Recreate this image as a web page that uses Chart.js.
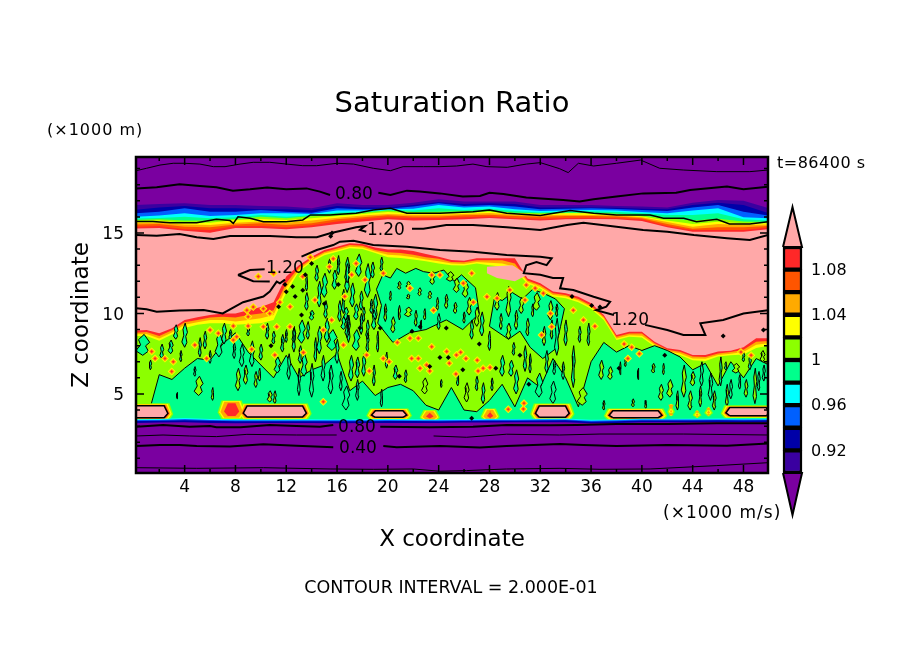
<!DOCTYPE html>
<html>
<head>
<meta charset="utf-8">
<title>Saturation Ratio</title>
<script src="https://cdn.jsdelivr.net/npm/chart.js@4/dist/chart.umd.min.js"></script>
<style>
  html, body { margin: 0; padding: 0; background: #fff; }
  #wrap { position: relative; width: 904px; height: 654px; overflow: hidden; }
  #plot { position: absolute; left: 0; top: 0; }
  #scale { position: absolute; left: 770px; top: 195px; }
</style>
</head>
<body>
<div id="wrap">
  <canvas id="plot" width="904" height="654"></canvas>
  <canvas id="scale" width="130" height="330"></canvas>
</div>
<script>
// ── Colours ───────────────────────────────────────────────────────────────
const PURPLE = "#7a00a0", INDIGO = "#3a00a0", NAVY = "#0000a8", BLUE = "#0060ff", CYAN = "#00ffff";
const TEAL = "#00ff8c", LIME = "#8cff00", YELLOW = "#ffff00", ORANGE = "#ffaa00", DEEP = "#ff5500";
const RED = "#ff2828", PINK = "#ffa8a8", INK = "#000";

// ── Axes ──────────────────────────────────────────────────────────────────
const xTickValues = [4, 8, 12, 16, 20, 24, 28, 32, 36, 40, 44, 48];
const yTickValues = [5, 10, 15];

// ── Upper stack of bands: top of each band, km, one value per xEdges entry ─
const xEdges  = [0,2,4,6,8,10,12,14,16,18,20,22,24,26,28,30,32,34,36,38,40,42,44,46,48,50];
const edge090 = [16.74,16.80,16.84,16.74,16.74,16.68,16.64,16.53,16.84,16.74,16.74,16.88,17.09,16.95,16.95,16.95,16.74,16.74,16.74,16.68,16.64,16.59,16.88,17.05,17.01,16.53];
const edge092 = [16.43,16.59,16.68,16.53,16.53,16.47,16.47,16.43,16.68,16.59,16.59,16.74,16.92,16.80,16.84,16.80,16.59,16.59,16.59,16.57,16.51,16.47,16.74,16.88,16.74,16.22];
const edge094 = [16.22,16.32,16.53,16.32,16.32,16.43,16.32,16.26,16.53,16.47,16.51,16.64,16.84,16.68,16.74,16.64,16.47,16.51,16.53,16.49,16.43,16.37,16.59,16.74,16.32,16.08];
const edge096 = [16.01,16.08,16.22,16.06,16.12,16.22,16.22,16.18,16.39,16.39,16.47,16.51,16.74,16.59,16.64,16.47,16.37,16.39,16.43,16.39,16.30,16.22,16.39,16.53,15.97,15.91];
const edge098 = [15.89,15.93,16.01,15.91,15.97,16.12,16.01,16.10,16.26,16.30,16.43,16.39,16.53,16.43,16.51,16.37,16.28,16.32,16.35,16.30,16.22,16.12,16.12,16.22,15.85,15.77];
const edge100 = [15.81,15.85,15.77,15.77,15.87,16.01,15.91,16.06,16.18,16.26,16.39,16.30,16.32,16.35,16.39,16.26,16.22,16.26,16.26,16.20,16.08,15.91,15.77,15.89,15.72,15.68];
const edge102 = [15.72,15.77,15.64,15.64,15.81,15.87,15.81,15.91,16.06,16.18,16.30,16.22,16.22,16.26,16.32,16.22,16.16,16.22,16.22,16.16,16.03,15.77,15.56,15.70,15.60,15.60];
const edge104 = [15.64,15.64,15.52,15.50,15.64,15.72,15.64,15.77,15.95,16.08,16.18,16.14,16.14,16.18,16.24,16.14,16.10,16.14,16.12,16.10,15.97,15.68,15.39,15.56,15.50,15.52];
const edge106 = [15.52,15.56,15.39,15.35,15.52,15.60,15.50,15.60,15.85,15.97,16.10,16.03,16.03,16.10,16.14,16.06,16.01,16.06,16.06,16.03,15.91,15.56,15.27,15.35,15.35,15.43];
const edge108 = [15.39,15.43,15.23,15.19,15.43,15.43,15.35,15.48,15.72,15.87,15.97,15.93,15.93,15.97,16.03,15.93,15.89,15.93,15.95,15.91,15.85,15.43,15.19,15.19,15.19,15.35];
const edge110 = [15.27,15.31,15.14,15.02,15.31,15.31,15.23,15.35,15.56,15.72,15.85,15.77,15.81,15.85,15.93,15.85,15.77,15.85,15.87,15.85,15.74,15.35,15.08,15.08,15.08,15.23];

// ── Cloud top and bottom of the moist layer ───────────────────────────────
const xCloud = [0,1,2,3,4,5,6,7,8,9,10,11,12,13,14,15,16,17,18,19,20,21,22,23,24,25,26,27,28,29,30,31,32,33,34,35,36,37,38,39,40,41,42,43,44,45,46,47,48,49,50];
const cloudRed    = [8.93,8.97,8.77,9.08,9.6,9.76,9.9,10.0,10.0,10.2,10.4,10.7,12.3,13.0,13.53,13.94,14.15,14.36,14.32,14.1,13.98,13.98,13.88,13.7,13.53,13.32,13.28,13.43,13.43,13.43,13.43,12.18,11.87,11.36,11.25,11.04,10.63,9.9,8.66,8.87,8.87,8.25,7.84,7.73,7.42,7.42,7.63,7.69,7.9,8.46,8.46];
const cloudOrange = [8.8,8.85,8.6,8.95,9.45,9.6,9.75,9.8,9.75,9.9,10.0,10.2,11.9,12.85,13.4,13.82,14.03,14.25,14.2,13.95,13.8,13.75,13.65,13.5,13.4,13.2,13.18,13.3,13.3,13.3,13.1,12.05,11.75,11.25,11.15,10.9,10.5,9.8,8.55,8.75,8.75,8.15,7.74,7.62,7.32,7.3,7.52,7.6,7.75,8.25,8.3];
const cloudYellow = [8.7,8.72,8.45,8.82,9.3,9.45,9.6,9.6,9.5,9.6,9.7,9.9,11.6,12.72,13.3,13.72,13.93,14.15,14.1,13.85,13.65,13.6,13.5,13.35,13.25,13.1,13.08,13.2,13.15,13.1,12.9,11.95,11.65,11.15,11.05,10.8,10.4,9.7,8.45,8.65,8.62,8.05,7.65,7.52,7.2,7.18,7.42,7.5,7.6,8.05,8.15];
const cloudLime   = [8.6,8.6,8.3,8.7,9.1,9.3,9.4,9.4,9.3,9.35,9.4,9.6,11.3,12.6,13.2,13.62,13.83,14.05,14.0,13.75,13.5,13.45,13.35,13.25,13.1,13.0,12.98,13.1,13.0,12.9,12.7,11.85,11.55,11.05,10.95,10.7,10.3,9.6,8.35,8.55,8.5,7.95,7.55,7.42,7.1,7.05,7.32,7.4,7.45,7.85,8.0];
const tealTop     = [3.3,3.3,6.2,5.9,6.6,7.2,7.1,8.1,8.8,7.6,6.8,6.0,7.4,6.0,6.5,6.8,7.5,5.2,5.8,4.9,5.4,5.6,5.2,4.3,4.0,5.4,4.0,3.9,4.6,5.6,4.2,6.0,5.4,7.2,6.0,4.2,7.0,8.2,7.6,8.0,7.7,8.0,7.7,7.3,6.5,6.9,5.5,7.0,6.0,7.2,6.8];

const bandCyan = [3.43,3.44,3.50,3.45,3.42,3.42,3.42,3.43,3.42,3.43,3.44,3.43,3.42,3.43,3.46,3.45,3.46,3.48,3.40,3.42,3.46,3.46,3.46,3.47,3.46,3.48];
const bandBlue = [3.38,3.39,3.44,3.39,3.36,3.37,3.36,3.37,3.37,3.37,3.38,3.37,3.37,3.38,3.40,3.40,3.41,3.42,3.34,3.37,3.41,3.41,3.41,3.42,3.41,3.42];
const bandNavy = [3.32,3.33,3.37,3.33,3.30,3.31,3.31,3.31,3.31,3.31,3.32,3.32,3.31,3.32,3.34,3.34,3.35,3.36,3.28,3.31,3.35,3.35,3.35,3.36,3.35,3.36];
const bandBase = [3.20,3.22,3.24,3.20,3.18,3.20,3.20,3.20,3.18,3.20,3.20,3.20,3.20,3.22,3.22,3.24,3.24,3.24,3.18,3.20,3.24,3.24,3.24,3.26,3.26,3.26];

// ── Large patches [x, km] ─────────────────────────────────────────────────
const tealPatchA = [[19.2,9.4],[20.4,8.2],[21.7,8.8],[23,9],[24.6,9.6],[25.9,9],[27.2,10],[26.9,11.6],[25.8,12.4],[25.2,12.0],[24.4,12.7],[23.6,12.5],[22.8,12.6],[22.2,12.8],[21.4,12.5],[20.7,12.8],[20.2,12.2],[19.6,12.4],[19.1,11.5],[19.5,10.5],[19.2,9.4]];
const tealPatchB = [[28.0,9.2],[29.5,8.4],[30.4,8.9],[31.2,7.9],[32.2,7.2],[33.2,7.8],[33.6,9.2],[33.9,10.3],[33.2,10.9],[32.4,11.2],[31.4,11.5],[30.6,10.9],[29.8,11.3],[29.0,10.8],[28.4,11.0],[28.0,9.2]];
const pinkWedge  = [[27.8,12.9],[29.8,13],[31,12.4],[30,12],[28.6,12.2],[27.8,12.5],[27.8,12.9]];

// ── Streaks: [x, bottom, top, half width] ─────────────────────────────────
const tealStreaks = [
  [0.7,7.4,8.7,.55],[2.9,7.5,8.35,.2],[4,7.9,9.4,.22],[5.2,7.3,8.5,.12],[6.7,7.3,8.8,.3],[4.8,6.1,6.7,.1],
  [8.5,6.7,8.1,.2],[9.3,6.7,8.3,.2],[10,7.1,8.1,.15],[11.3,6.3,7.3,.25],[12.2,5.9,7.5,.15],[13.2,8.15,9.6,.3],
  [13.4,6.1,7.5,.25],[14.6,7.5,9.2,.2],[15.6,7.7,9.0,.4],[16.5,9,9.8,.2],[15,11,12.5,.25],[15.8,11.5,12.7,.2],
  [16.8,11.3,13.1,.2],[14,9.6,10.2,.2],[16.7,9.6,10.4,.2],[16.8,11.9,13.5,.2],[17.2,10.4,11.9,.2],[17.7,12.3,13.7,.25],
  [18.4,11,13.1,.25],[16.5,10,11.5,.15],[17.5,9.6,10.6,.2],[19,9.6,11.2,.2],[17.5,7.7,9,.3],[18.9,9,10.2,.2],
  [16.7,4,5.5,.3],[19.5,4.2,5.3,.1],[27.5,4.4,5.7,.15],[29.7,6.1,7.1,.2],[31.2,6.3,7.5,.1],[31.9,4.8,6.3,.3],[33,4.4,5.8,.25],
  [13.6,10.2,11.3,.15],[14.6,10.4,12,.18],[12.6,8.2,9.1,.15],[11,8.1,8.9,.14],[9,8.6,9.2,.12],[7.6,8.4,9,.12],
  [12.6,7.6,9.2,.14],[13,4.9,6.6,.12],[13.1,6.9,8,.16],[13.7,8.4,9.5,.14],[14,4.8,6.9,.18],[14.3,7,8.5,.12],[14.9,5.8,7.4,.16],
  [15.2,8.2,9.7,.2],[15.5,5,6.8,.2],[16,6.9,8.4,.16],[16.3,5.2,6.4,.12],[16.8,8.5,9.9,.18],[17.1,5.8,7.4,.2],[17.6,4.6,5.9,.14],
  [18.1,6.1,7.5,.16],[18.4,8.4,9.6,.14],[1.3,6.5,7.1,.1],[2.2,7.2,8.1,.15],[3.3,8.4,9.3,.18],[3.7,7,7.7,.1],[5.6,7.8,8.9,.14],
  [6,6.9,7.7,.1],[7.1,8.1,9.4,.2],[7.9,7.2,8.2,.12],[11.7,7.6,8.7,.15],[10.5,8.4,9.4,.14],[12,8.2,9,.1],
  [13.6,11.4,12.4,.1],[14.4,12,13,.15],[15.1,9.7,10.8,.15],[15.4,12.5,13.4,.12],[16.2,9.5,10.8,.15],[16.1,12.4,13.6,.12],
  [17.9,10.2,11.4,.16],[18.1,9.5,10.4,.12],[18.7,10,10.9,.12],[18.8,12.2,13.2,.15],[19.5,12.6,13.5,.12],
  [16.9,8.2,9.9,.15],[17.9,8.7,10,.14],[18.4,7.6,8.8,.12],[19.2,7.6,8.9,.1],[24,9,10,.14],[26.6,8.4,9.6,.15],[27.4,8.6,10.1,.18],
  [28,7.7,8.9,.12],[19.9,6.6,7.6,.1],[17.6,6,7.3,.18],[18.9,5.5,6.8,.12],[20.6,5.9,6.8,.18],[21.4,5.7,6.5,.12],[25.5,5.5,6.3,.1],
  [24.2,5.4,5.9,.08],[29,6.1,7.4,.2],[30.1,5,6.5,.2],[30.8,6.4,8,.14],[32.5,6.3,7.7,.14],[33.1,6.2,7.1,.12],[28.2,5.2,6,.1],[27,5.2,6.1,.12],[29.9,7.4,8.2,.12],
  [33.3,7.4,9.7,.18],[34,8,9.6,.14],[34.6,5.4,8,.15],[35.1,8.2,9.2,.12],[33.8,5.9,7,.12],[35.8,8,9.4,.12],
  [44.7,5.5,7,.15],[45.4,4.6,6.3,.18],[46.2,5.5,7.3,.12],[47,4.7,5.9,.14],[47.7,5.3,6.2,.1],[48.5,6.5,7.4,.12],[49.2,5.2,6.4,.12],[49.6,5.8,6.8,.12],[48,7,7.6,.1],[46.6,6.5,7,.1]
];
const limeStreaks = [
  [21.6,11.6,12,.18],[20.9,11.5,12,.15],[22.5,11.1,11.6,.15],[23.3,10.9,11.4,.15],[21.6,10.9,11.2,.15],[23.5,11.8,12.6,.2],
  [24.9,12,12.6,.3],[25.4,11.3,12.2,.25],[26.1,11,12,.25],[25.3,10,10.7,.15],[21.6,9.8,10.4,.3],[26.4,9.9,11,.2],
  [29.5,9.8,11.7,.2],[30.5,10,11,.2],[31.7,10.2,11.3,.3],[32.8,9.6,10.8,.2],[28.6,10.2,11.3,.2],[29.5,8.4,9.4,.2],
  [36.8,5.9,7.1,.2],[37.5,5.9,6.7,.2],[40.9,6.3,6.9,.15],[42.2,4.8,5.9,.25],[41.5,4.6,5.6,.2],[43.3,4.8,6.8,.2],
  [44,5.5,6.4,.2],[45.7,4,5.2,.15],[48.2,4.8,5.9,.15],[48.9,4.4,6.6,.15],[47.4,6.3,6.9,.3],[49.5,7,7.7,.2],
  [5.1,4.9,6.1,.35],[35.3,4.3,5.4,.4],[39.3,4.2,4.7,.12],[46.7,4.2,5.6,.12],[22.9,5,6,.25],[26.2,4.5,5.7,.2],
  [8.2,5.2,6.6,.2],[8.8,5.6,6.8,.18],[9.6,5.4,6.4,.14],[10.7,4.5,5.2,.2],[11.1,4.4,5.2,.12],[9.9,5.8,6.6,.1],
  [19.8,9.5,10.6,.12],[20.4,8.8,9.8,.18],[20.9,9.6,10.5,.1],[22.2,9.2,10.2,.12],[22.9,9.6,10.3,.1],[23.9,10.2,11,.1],[24.6,10.3,11.2,.14],
  [27,9.2,10.4,.2],[26,9.4,10.1,.1],[20.2,10.8,11.4,.08],[22.6,9,9.6,.08],[28.9,9,10,.12],[30.1,9,10.2,.14],[31,8.6,9.7,.14],[31.4,9.8,10.6,.1],
  [32.3,8,9.2,.14],[32.9,8.4,9.6,.12],[33.3,9.8,10.6,.1],[38.3,6.2,7,.06],[38.7,6.7,7.2,.08],[39.7,5.9,6.6,.07],[41.7,6.2,6.9,.08],
  [37,4,4.6,.1],[40.3,4.1,4.6,.08],[42.8,4,5.2,.12],[43.8,4,5.2,.18],[44.6,4.2,5.5,.12],[3.4,4.7,5.1,.06],[6.2,4.6,5.4,.1]
];

// ── Warm pockets above the cloud base: [x0, x1, bottom, top] ──────────────
const pinkPockets = [[-0.5,3.1,3.38,4.42],[8.2,14,3.42,4.4],[18.3,21.9,3.4,4.1],[31.2,34.7,3.4,4.4],[37,42,3.38,4.1],[46.2,50.5,3.5,4.3]];
const hotPockets  = [[6.6,8.8,3.45,4.6],[22.5,24.1,3.3,4.0],[27.3,28.8,3.3,4.1],[42,42.6,3.6,4.4],[44,44.7,3.5,4],[44.9,45.6,3.6,4.2]];

// ── Specks [x, km] ────────────────────────────────────────────────────────
const hotSpecks = [
  [21.87,7.2],[22.4,7.2],[19.64,7.2],[20.1,7],[18.54,6.43],[20.75,8.2],[22.4,8.46],[23.45,7.94],[21.74,8.46],[23.05,6.8],[22.53,6.6],[23.3,6.43],
  [24.84,6.9],[25.4,7.42],[25.73,7.59],[26.15,7.2],[25.36,6.24],[27.04,7.1],[27.5,6.6],[28.04,6.65],[27.1,6.43],[18.33,7.42],[24.63,7.63],[30.72,4.42],
  [30.67,4.07],[29.48,4.05],[32.1,8.66],[32.9,9.18],[16.6,11.05],[17.5,13.1],[17.15,12.4],[18.2,12.1],[19.64,12.5],[21.74,11.56],[23.45,12.39],[24.1,12.39],
  [25.94,11.87],[26.73,10.7],[26.6,12.5],[27.8,11.04],[28.6,10.94],[29.6,11.46],[30.9,11.77],[31.6,11.56],[32.24,11.25],[32.8,10],[30.8,10.84],[23.6,10.2],
  [7.83,9.22],[9,9.22],[11.25,9.18],[10.2,9.18],[7.83,8.35],[9.28,7.77],[13.35,7.57],[11.1,7.42],[14.92,4.52],[15.57,9.6],[16.5,8.04],[14.92,8.97],
  [5.73,7.2],[6,8.97],[6.65,8.77],[8.1,8.56],[12.3,9.18],[3.11,7],[2.45,7.2],[1.67,7.2],[1.4,7.63],[4.8,8.04],[2.98,6.4],
  [9.8,12.29],[11,12.5],[13.9,13.5],[15.4,12.9],[15.7,13.4],[14.26,10.84],[12.3,10.42],[11.5,10.7],[13.3,12.3],[8.9,10.2],[9.4,10.4],[10.2,10.3],[10.7,10],[9,9.8],
  [38.6,8.1],[39.2,7.9],[39.8,7.5],[38.9,7.2],[36.3,9.2],[35.4,9.6],[34.6,10.2],[47.8,7.6],[48.6,7.4]
];
const inkSpecks = [
  [11.9,11.8],[12.5,11.67],[12,11.35],[11.4,10.42],[13.5,12.4],[14,13.1],[12.7,11.05],[13.3,11.45],[15.6,15],[15.5,14.8],
  [24.1,7.26],[24.76,7.26],[22.53,9.18],[23.3,6.7],[26.6,3.49],[34.5,11.05],[36.05,10.5],[36.7,10.4],[46.4,8.6],[49.57,8.97],
  [19.4,9.1],[20.9,6.1],[21.9,8.9],[24.6,9.1],[25.9,6.5],[27.2,8.1],[28.5,6.6],[30.4,7.4],[31.1,5.6],[15,10.6],[16.1,11.8],[13.2,9.9],[17.8,9.1],[10.8,8],[38.2,6.6],[41.8,7.4]
];

// ── Contour lines [x, km]; null starts a new piece ────────────────────────
const contourTop = [[.2,18.87],[1,19.02],[2.06,19.22],[3.1,19.33],[4,19.33],[5.2,19.28],[6.26,19.12],[7.18,19.12],[8.36,19.28],[9.4,19.39],[10.7,19.39],[12.03,19.28],[13.3,19.18],[14.4,19.18],[16,19.33],[17.3,19.28],[18.85,19.02],[20.2,18.87],[21.2,19.12],[22.8,19.12],[24.1,19.12],[25.4,19.16],[26.7,19.28],[27.8,19.12],[29.4,19.08],[30.9,19.28],[32,19.37],[33.5,19],[34.2,18.75],[35,19.33],[36.2,19.16],[38,19.33],[39.9,19.53],[41.4,19.02],[43.3,18.91],[45.9,18.81],[48.5,18.81],[49.93,18.91]];
const contour080 = [[.2,17.77],[1.8,17.84],[3.6,18.02],[5.2,17.92],[6.5,17.84],[7.8,17.63],[9.15,17.71],[10.5,17.82],[12,17.71],[13.6,17.77],[14.65,17.57],[15.45,17.36],null,[19.25,17.5],[20.2,17.36],[21.5,17.63],[22.5,17.57],[24.1,17.46],[25.9,17.26],[27.25,17.3],[28,17.5],[29.1,17.42],[30.9,17.2],[33.8,17.05],[35.1,16.95],[36.2,17.09],[38,17.26],[40.1,17.46],[42.7,17.5],[43.8,17.67],[46.7,17.88],[48,17.71],[49.93,17.88]];
const contour100 = [[.2,15.72],[1.5,15.72],[2.85,15.64],[4.95,15.64],[6.5,15.85],[7.57,15.77],[7.83,15.6],[8.2,16.01],[9.15,15.91],[10.2,15.7],[12,15.7],[13.3,15.81],[13.9,16.12],[15.45,16.12],[16.23,16.16],[17.5,16.22],[18.85,16.43],[20.2,16.53],[21.5,16.22],[24.1,16.22],[26.7,16.32],[28,16.43],[29.35,16.22],[32,16.08],[34.35,16.39],[36.2,16.22],[38,16.12],[40.65,16.12],[41.7,15.91],[43.3,15.91],[44.3,15.7],[45.9,15.85],[46.9,15.56],[48.5,15.56],[49.93,15.7]];
const contour120 = [[.2,14.87],[1.8,14.83],[3.6,14.94],[4.95,14.73],[6.26,14.63],[7.57,14.81],[8.9,14.81],[10.7,14.81],[12.8,14.73],[14.4,14.73],[15.45,14.98],[16.23,15.12],[17.5,15.35],[18.2,15.43],[17.8,15.19],[18.3,15.08],null,[21.9,15.27],[22.8,15.27],[24.6,15.5],[26.7,15.5],[29.35,15.35],[32,15.19],[34.1,15.5],[35.4,15.64],[38,15.39],[40.1,15.19],[42,15.08],[44.1,14.87],[46.7,14.67],[48.5,14.56],[49.93,14.87]];
const contourCloud = [[.2,10.32],[1,10.26],[1.8,10.11],[3.6,10.18],[5.5,10.22],[7,10],[8.6,10.7],[10.2,11.05],[10.7,11.36],[11.25,11.98],[11.5,11.87],[11.9,12.1],null,[13.2,13.53],[14.4,13.94],[15.7,14.25],[16.23,14.46],[17.3,14.52],[18.85,14.25],[21.5,14.15],[24.1,13.94],[26.7,13.84],[29.35,13.63],[32,13.53],[32.9,13.43],[32.5,13],[31.7,13.2],[30.9,13],[30.7,12.5],[32,12.4],[33,12.2],[33.8,12.2],[33.56,11.56],[34.6,11.46],[36.2,11.04],[37.5,10.73],[37.2,10.42],[36.4,10.2],[37.8,9.9],null,[40.25,9.29],[42,8.97],[43.27,8.66],[45,8.66],[44.6,9.39],[46.4,9.6],[48,10],[49.93,10.2],null,[8.2,12.39],[9.15,12.7],[10.3,12.74],null,[10.7,11.98],[9.4,12],[8.2,12.39]];
const contour080Low = [[.2,2.97],[2.3,3.07],[4.4,2.97],[6,3.01],[6.5,2.93],[8.4,2.93],[10.7,3.07],[12.8,3.01],[14.65,2.97],[15.7,3.07],null,[19.4,2.97],[23.3,2.93],[26.7,2.97],[29.35,3.07],[32.77,3.05],[34.9,3.07],[38,3.13],[42,3.13],[45.9,3.18],[49.93,3.18]];
const contour060Low = [[.2,2.39],[2.3,2.45],[4.4,2.39],[6.5,2.35],[8.9,2.49],[12.8,2.45],[15.97,2.45],null,[23.6,2.39],[26.2,2.31],[29.35,2.5],[33.5,2.45],[36.7,2.51],[43.3,2.51],[49.93,2.45]];
const contour040Low = [[.2,1.77],[2.06,1.83],[3.6,1.83],[4.95,1.77],[7.57,1.73],[10.2,1.87],[12.8,1.79],[15.7,1.69],null,[19.64,1.77],[20.7,1.69],[24.1,1.77],[27.25,1.67],[29.35,1.77],[33.55,1.89],[35.4,1.83],[38,1.77],[42,1.83],[46.7,1.79],[49.93,1.93]];
const contour020Low = [[.2,.42],[4.95,.38],[10.2,.42],[15.45,.34],[18.85,.32],[22,.34],[24.1,.2],[26.2,.24],[29.35,.34],[33.55,.38],[36.7,.32],[40.65,.34],[45.9,.55],[49.93,.73]];

const contourLabels = [
  ["0.80",17.33,17.48],["1.20",19.85,15.25],["1.20",11.9,12.9],["1.20",39.07,9.66],["0.80",17.57,3.01],["0.40",17.65,1.71]
];

// ── Colour bar ────────────────────────────────────────────────────────────
const barLevels = [.90,.92,.94,.96,.98,1,1.02,1.04,1.06,1.08,1.10];
const barColors = [INDIGO,NAVY,BLUE,CYAN,TEAL,LIME,YELLOW,ORANGE,DEEP,RED];
const barTicks  = [.92,.96,1,1.04,1.08];

// ── Helpers ───────────────────────────────────────────────────────────────
const FONT = "'DejaVu Sans', sans-serif";
let drawOrder = 1000;

const onEdges = (xs, ys) => xs.map((x, i) => ({ x, y: ys[i] }));
const toPoints = pts => pts.map(p => p ? { x: p[0], y: p[1] } : { x: 0, y: null });

function area(data, color) {
  return { type: "line", data, backgroundColor: color, borderWidth: 0, fill: "start", pointRadius: 0, order: drawOrder-- };
}
function contour(pts, width) {
  return { type: "line", data: toPoints(pts), borderColor: INK, borderWidth: width, fill: false, pointRadius: 0, order: drawOrder-- };
}
function shapes(data, color, lineWidth) {
  return { type: "line", data, backgroundColor: color, borderColor: INK, borderWidth: lineWidth, fill: "shape", pointRadius: 0, order: drawOrder-- };
}
function specks(pts, color, radius) {
  return { type: "scatter", data: toPoints(pts), backgroundColor: color, borderWidth: 0, pointStyle: "rectRot", pointRadius: radius, order: drawOrder-- };
}
// a streak is a kinked spindle, not a clean leaf
function streakOutlines(list) {
  const out = [];
  list.forEach(([x, lo, hi, w]) => {
    const h = hi - lo;
    out.push({x, y: lo}, {x: x + w * .8, y: lo + h * .2}, {x: x + w * .4, y: lo + h * .45}, {x: x + w, y: lo + h * .62},
             {x: x + w * .2, y: hi}, {x: x - w * .6, y: lo + h * .75}, {x: x - w * .3, y: lo + h * .5}, {x: x - w, y: lo + h * .22},
             {x, y: lo}, {x, y: null});
  });
  return out;
}
function pocketOutlines(list, inset) {
  const out = [];
  list.forEach(([x0, x1, lo, hi]) => {
    const a = x0 + inset, b = x1 - inset, c = lo + inset * .35, d = hi - inset * .35;
    if (b <= a || d <= c) return;
    const cx = .3, cy = (d - c) * .35;
    out.push({x: a + cx, y: c}, {x: b - cx, y: c}, {x: b, y: c + cy}, {x: b - cx, y: d}, {x: a + cx, y: d}, {x: a, y: c + cy}, {x: a + cx, y: c}, {x: a, y: null});
  });
  return out;
}

// ── Frame, inward ticks and the free text ─────────────────────────────────
const framePlugin = {
  id: "frame",
  afterDatasetsDraw(chart) {
    const { ctx, chartArea: a, scales: { x, y } } = chart;
    ctx.save();
    ctx.strokeStyle = INK;
    ctx.lineWidth = 1.5;
    ctx.beginPath();
    for (let v = 2; v < 50; v += 2) {
      const px = x.getPixelForValue(v), len = v % 4 === 0 ? 8 : 4;
      ctx.moveTo(px, a.top); ctx.lineTo(px, a.top + len);
      ctx.moveTo(px, a.bottom); ctx.lineTo(px, a.bottom - len);
    }
    for (let v = 1; v < 20; v++) {
      const py = y.getPixelForValue(v), len = v % 5 === 0 ? 8 : 4;
      ctx.moveTo(a.left, py); ctx.lineTo(a.left + len, py);
      ctx.moveTo(a.right, py); ctx.lineTo(a.right - len, py);
    }
    ctx.stroke();
    ctx.lineWidth = 2.5;
    ctx.strokeRect(a.left, a.top, a.right - a.left, a.bottom - a.top);

    ctx.fillStyle = INK;
    ctx.textAlign = "center";
    ctx.textBaseline = "middle";
    ctx.font = "17px " + FONT;
    contourLabels.forEach(([t, vx, vy]) => ctx.fillText(t, x.getPixelForValue(vx), y.getPixelForValue(vy) + 2));

    ctx.textAlign = "left";
    ctx.font = "16px " + FONT;
    ctx.letterSpacing = "1px";
    ctx.fillText("(×1000 m)", 47, 130.5);
    ctx.letterSpacing = ".5px";
    ctx.fillText("t=86400 s", 777, 164);
    ctx.font = "17px " + FONT;
    ctx.letterSpacing = "1px";
    ctx.fillText("(×1000 m/s)", 663, 513.5);
    ctx.letterSpacing = "0px";
    ctx.font = "17.5px " + FONT;
    ctx.textAlign = "center";
    ctx.fillText("CONTOUR INTERVAL = 2.000E-01", 451, 588);
    ctx.restore();
  }
};

// ── Main plot ─────────────────────────────────────────────────────────────
const warmPockets = pinkPockets.concat(hotPockets);
const plotDatasets = [
  area(onEdges([0, 50], [19.8, 19.8]), PURPLE),
  area(onEdges(xEdges, edge090), INDIGO),
  area(onEdges(xEdges, edge092), NAVY),
  area(onEdges(xEdges, edge094), BLUE),
  area(onEdges(xEdges, edge096), CYAN),
  area(onEdges(xEdges, edge098), TEAL),
  area(onEdges(xEdges, edge100), LIME),
  area(onEdges(xEdges, edge102), YELLOW),
  area(onEdges(xEdges, edge104), ORANGE),
  area(onEdges(xEdges, edge106), DEEP),
  area(onEdges(xEdges, edge108), RED),
  area(onEdges(xEdges, edge110), PINK),
  area(onEdges(xCloud, cloudRed), RED),
  area(onEdges(xCloud, cloudOrange), ORANGE),
  area(onEdges(xCloud, cloudYellow), YELLOW),
  area(onEdges(xCloud, cloudLime), LIME),
  shapes(toPoints(pinkWedge), PINK, 0),
  { ...area(onEdges(xCloud, tealTop), TEAL), borderColor: INK, borderWidth: 1 },
  shapes(toPoints(tealPatchA), TEAL, 1),
  shapes(toPoints(tealPatchB), TEAL, 1),
  shapes(streakOutlines(tealStreaks), TEAL, 1),
  shapes(streakOutlines(limeStreaks), LIME, 1),
  specks(hotSpecks, YELLOW, 4),
  specks(hotSpecks, ORANGE, 3),
  specks(hotSpecks, RED, 1.5),
  shapes(pocketOutlines(warmPockets, 0), LIME, 0),
  shapes(pocketOutlines(warmPockets, .12), YELLOW, 0),
  shapes(pocketOutlines(warmPockets, .22), ORANGE, 0),
  shapes(pocketOutlines(pinkPockets, .32), RED, 0),
  shapes(pocketOutlines(hotPockets, .5), RED, 0),
  shapes(pocketOutlines(pinkPockets, .42), PINK, 1.5),
  area(onEdges(xEdges, bandCyan), CYAN),
  area(onEdges(xEdges, bandBlue), BLUE),
  area(onEdges(xEdges, bandNavy), NAVY),
  area(onEdges(xEdges, bandBase), PURPLE),
  specks(inkSpecks, INK, 2.5),
  contour(contourTop, 1),
  contour(contour080, 2),
  contour(contour100, 1.5),
  contour(contour120, 2),
  contour(contourCloud, 2),
  contour(contour080Low, 2),
  contour(contour060Low, 1),
  contour(contour040Low, 2),
  contour(contour020Low, 1)
];

new Chart(document.getElementById("plot"), {
  type: "line",
  data: { datasets: plotDatasets },
  plugins: [framePlugin],
  options: {
    responsive: false,
    animation: false,
    events: [],
    elements: { line: { tension: 0 } },
    plugins: {
      legend: { display: false },
      tooltip: { enabled: false },
      filler: { drawTime: "beforeDatasetDraw" },
      title: {
        display: true,
        text: "Saturation Ratio",
        color: INK,
        font: { family: FONT, size: 29, weight: "normal", lineHeight: 1.2 },
        padding: { top: 86.6, bottom: 35.6 }
      }
    },
    scales: {
      x: {
        type: "linear", min: .17, max: 49.93,
        grid: { display: false, drawTicks: false }, border: { display: false },
        afterBuildTicks: s => { s.ticks = xTickValues.map(value => ({ value })); },
        afterFit: s => { s.height = 181; },
        ticks: { color: INK, maxRotation: 0, padding: 4, font: { family: FONT, size: 17 } },
        title: { display: true, text: "X coordinate", color: INK, font: { family: FONT, size: 23, lineHeight: 1.2 }, padding: { top: 0, bottom: 100.2 } }
      },
      y: {
        type: "linear", min: .09, max: 19.72,
        grid: { display: false, drawTicks: false }, border: { display: false },
        afterBuildTicks: s => { s.ticks = yTickValues.map(value => ({ value })); },
        afterFit: s => { s.width = 136; },
        ticks: { color: INK, padding: 12, labelOffset: 2, font: { family: FONT, size: 17 } },
        title: { display: true, text: "Z coordinate", color: INK, font: { family: FONT, size: 23, lineHeight: 1.2 }, padding: { top: 68.2, bottom: 0 } }
      },
      // empty scale that reserves the colour bar's side so the title stays centred on the page
      side: {
        type: "linear", position: "right", axis: "y",
        grid: { display: false, drawTicks: false }, border: { display: false },
        ticks: { display: false },
        afterFit: s => { s.width = 136; }
      }
    }
  }
});

// ── Colour bar ────────────────────────────────────────────────────────────
new Chart(document.getElementById("scale"), {
  type: "bar",
  data: {
    datasets: [
      {
        type: "line", data: [{x: 0, y: 1.10}, {x: .5, y: 1.1354}, {x: 1, y: 1.10}, {x: 0, y: 1.10}],
        backgroundColor: PINK, borderColor: INK, borderWidth: 2, fill: "shape", pointRadius: 0, clip: false, order: 2
      },
      {
        type: "line", data: [{x: 0, y: .90}, {x: .5, y: .8628}, {x: 1, y: .90}, {x: 0, y: .90}],
        backgroundColor: PURPLE, borderColor: INK, borderWidth: 2, fill: "shape", pointRadius: 0, clip: false, order: 2
      },
      {
        data: barColors.map((c, i) => ({ x: .5, y: [barLevels[i], barLevels[i + 1]] })),
        backgroundColor: barColors, borderColor: INK, borderWidth: 2.5, borderSkipped: false,
        barThickness: 19, grouped: false, clip: false, order: 1
      }
    ]
  },
  options: {
    responsive: false,
    animation: false,
    events: [],
    layout: { padding: { left: 13, top: 12, bottom: 10 } },
    elements: { line: { tension: 0 } },
    plugins: { legend: { display: false }, tooltip: { enabled: false }, title: { display: false } },
    scales: {
      x: { type: "linear", min: 0, max: 1, offset: false, display: false },
      y: {
        type: "linear", position: "right", min: .8628, max: 1.1354,
        grid: { display: false, drawTicks: false }, border: { display: false },
        afterBuildTicks: s => { s.ticks = barTicks.map(value => ({ value })); },
        afterFit: s => { s.width = 98; s.paddingTop = 0; s.paddingBottom = 0; },
        ticks: { color: INK, padding: 9, labelOffset: 1, font: { family: FONT, size: 16 }, callback: v => String(v) }
      }
    }
  }
});
</script>
</body>
</html>
